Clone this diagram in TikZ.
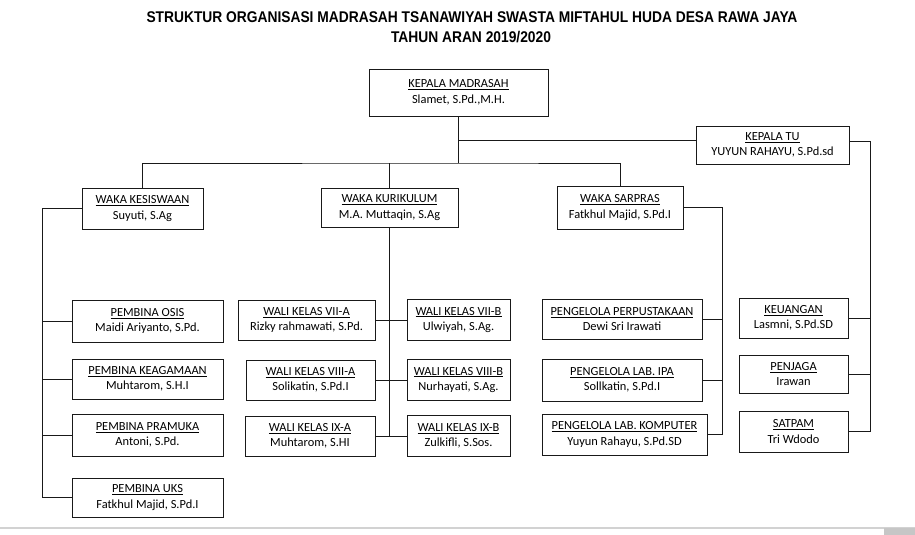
\documentclass[tikz,border=0pt]{standalone}
\usepackage{fontspec}
\setmainfont{Carlito}
\newfontfamily\judul[FakeStretch=0.89]{Liberation Sans}

\begin{document}
\begin{tikzpicture}[x=1pt,y=-1pt,
    kotak/.style={draw=black!90, line width=1pt, fill=white, align=center,
      inner sep=0pt, font=\fontsize{12.4}{15.5}\selectfont},
    garis/.style={black!90, line width=1pt},
    judulteks/.style={font=\judul\bfseries\fontsize{15.5}{18}\selectfont}]
  \useasboundingbox (0,0) rectangle (915,535);

  % Judul
  \node[judulteks] (judul1) at (472,17) {STRUKTUR ORGANISASI MADRASAH TSANAWIYAH SWASTA MIFTAHUL HUDA DESA RAWA JAYA};
  \node[judulteks] (judul2) at (471,37) {TAHUN ARAN 2019/2020};

  % Pimpinan
  \node[kotak, minimum width=179, minimum height=47] (kepsek) at (458.5,92.5)
    {\underline{KEPALA MADRASAH}\\Slamet, S.Pd.,M.H.};
  \node[kotak, minimum width=153, minimum height=38] (kepalaTU) at (772.5,145)
    {\underline{KEPALA TU}\\YUYUN RAHAYU, S.Pd.sd};

  % Waka
  \node[kotak, minimum width=121, minimum height=41] (kesiswaan) at (142.5,208.5)
    {\underline{WAKA KESISWAAN}\\Suyuti, S.Ag};
  \node[kotak, minimum width=137, minimum height=39] (kurikulum) at (389.5,207.5)
    {\underline{WAKA KURIKULUM}\\M.A. Muttaqin, S.Ag};
  \node[kotak, minimum width=126, minimum height=43] (sarpras) at (620,207.5)
    {\underline{WAKA SARPRAS}\\Fatkhul Majid, S.Pd.I};

  % Pembina
  \node[kotak, minimum width=151, minimum height=42] (osis) at (147.5,321)
    {\underline{PEMBINA OSIS}\\Maidi Ariyanto, S.Pd.};
  \node[kotak, minimum width=151, minimum height=40] (keagamaan) at (147.5,379)
    {\underline{PEMBINA KEAGAMAAN}\\Muhtarom, S.H.I};
  \node[kotak, minimum width=151, minimum height=42] (pramuka) at (147.5,435)
    {\underline{PEMBINA PRAMUKA}\\Antoni, S.Pd.};
  \node[kotak, minimum width=151, minimum height=39] (uks) at (147.5,497.5)
    {\underline{PEMBINA UKS}\\Fatkhul Majid, S.Pd.I};

  % Wali kelas
  \node[kotak, minimum width=137, minimum height=40] (waliVIIA) at (306.5,320)
    {\underline{WALI KELAS VII-A}\\Rizky rahmawati, S.Pd.};
  \node[kotak, minimum width=103, minimum height=41] (waliVIIB) at (458.5,320)
    {\underline{WALI KELAS VII-B}\\Ulwiyah, S.Ag.};
  \node[kotak, minimum width=129, minimum height=40] (waliVIIIA) at (310.5,380)
    {\underline{WALI KELAS VIII-A}\\Solikatin, S.Pd.I};
  \node[kotak, minimum width=103, minimum height=41] (waliVIIIB) at (458.5,380)
    {\underline{WALI KELAS VIII-B}\\Nurhayati, S.Ag.};
  \node[kotak, minimum width=130, minimum height=40] (waliIXA) at (310,436)
    {\underline{WALI KELAS IX-A}\\Muhtarom, S.HI};
  \node[kotak, minimum width=103, minimum height=41] (waliIXB) at (458.5,436)
    {\underline{WALI KELAS IX-B}\\Zulkifli, S.Sos.};

  % Pengelola
  \node[kotak, minimum width=160, minimum height=40] (perpus) at (622,319)
    {\underline{PENGELOLA PERPUSTAKAAN}\\Dewi Sri Irawati};
  \node[kotak, minimum width=160, minimum height=42] (labipa) at (622,380)
    {\underline{PENGELOLA LAB. IPA}\\Sollkatin, S.Pd.I};
  \node[kotak, minimum width=165, minimum height=41] (labkom) at (624.5,434.5)
    {\underline{PENGELOLA LAB. KOMPUTER}\\Yuyun Rahayu, S.Pd.SD};

  % Tata usaha
  \node[kotak, minimum width=109, minimum height=40] (keuangan) at (793.5,318)
    {\underline{KEUANGAN}\\Lasmni, S.Pd.SD};
  \node[kotak, minimum width=109, minimum height=38] (penjaga) at (793.5,374)
    {\underline{PENJAGA}\\Irawan};
  \node[kotak, minimum width=109, minimum height=41] (satpam) at (793.5,431.5)
    {\underline{SATPAM}\\Tri Wdodo};

  % Garis
  \coordinate (bus) at (458.5,163);
  \coordinate (tu) at (458.5,140);
  \coordinate (tukanan) at (870,141);
  \coordinate (kiri) at (42,208.5);
  \coordinate (sarkanan) at (722,207.5);
  \draw[garis] (kepsek.south) -- (bus);
  \draw[garis] (kesiswaan.north) |- (bus) -| (sarpras.north);
  \draw[garis] (bus -| kurikulum.north) -- (kurikulum.north);
  \draw[garis] (tu) -- (tu -| kepalaTU.west);
  \draw[garis] (kepalaTU.east |- tukanan) -- (tukanan) |- (satpam.east);
  \foreach \n in {keuangan, penjaga}
    \draw[garis] (\n.east) -- (\n.east -| tukanan);
  \draw[garis] (kesiswaan.west) -- (kiri) |- (uks.west);
  \foreach \n in {osis, keagamaan, pramuka}
    \draw[garis] (\n.west) -- (\n.west -| kiri);
  \draw[garis] (kurikulum.south) -- (kurikulum.south |- waliIXA.east);
  \draw[garis] (waliVIIA.east) -- (waliVIIB.west);
  \draw[garis] (waliVIIIA.east) -- (waliVIIIB.west);
  \draw[garis] (waliIXA.east) -- (waliIXB.west);
  \draw[garis] (sarpras.east) -- (sarkanan) |- (labkom.east);
  \foreach \n in {perpus, labipa}
    \draw[garis] (\n.east) -- (\n.east -| sarkanan);

  % Tepi bawah
  \draw[gray!35, line width=2pt] (0,528) -- (915,528);
  \fill[gray!45] (884,528) rectangle (915,535);
\end{tikzpicture}
\end{document}
